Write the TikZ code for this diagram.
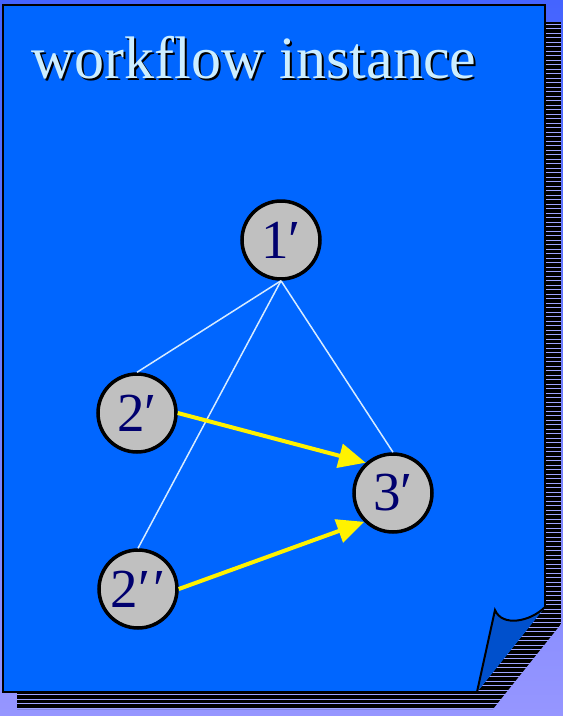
\documentclass[tikz,border=0pt]{standalone}
\usepackage{fontspec}
\setmainfont{Liberation Serif}
\usetikzlibrary{arrows.meta}

\definecolor{pageblue}{RGB}{0,102,255}
\definecolor{curlblue}{RGB}{0,80,204}
\definecolor{bgtop}{RGB}{68,100,255}
\definecolor{bgbottom}{RGB}{150,150,255}
\definecolor{stripe}{RGB}{160,165,255}
\definecolor{titlecyan}{RGB}{204,238,255}
\definecolor{labelnavy}{RGB}{0,0,110}
\definecolor{edgewhite}{RGB}{215,235,255}
\definecolor{nodegray}{RGB}{192,192,192}

\tikzset{
    state/.style={circle, draw=black, line width=3.5pt, fill=nodegray, minimum size=78pt,
            inner sep=0pt, text=labelnavy, font=\fontsize{55}{55}\selectfont},
    link/.style={edgewhite, line width=1.5pt},
    flow/.style={yellow, line width=4pt, -{Triangle[length=27pt,width=24pt]}},
    heading/.style={anchor=base, font=\fontsize{60}{60}\selectfont}
}

\begin{document}
\begin{tikzpicture}[x=1pt, y=-1pt]
    % Background
    \shade[top color=bgtop, bottom color=bgbottom] (0,0) rectangle (563,716);
    \useasboundingbox (0,0) rectangle (563,716);

    % Striped shadow of the page stack
    \fill[stripe] (17,22) -- (561,22) -- (561,624) -- (493,709) -- (17,709) -- cycle;
    \begin{scope}
        \clip (17,22) -- (561,22) -- (561,624) -- (493,709) -- (17,709) -- cycle;
        \foreach \y in {22,26.5,...,712}
            {
                \draw[line width=3.2pt] (17,\y) -- (561,\y);
            }
    \end{scope}

    % The page with its curled corner
    \fill[pageblue] (3,5) -- (545,5) -- (545,607) -- (477,692) -- (3,692) -- cycle;
    \draw[line width=2pt] (477,692) -- (3,692) -- (3,5) -- (545,5) -- (545,607);
    \fill[curlblue] (495,610) .. controls (502,627) and (530,622) .. (545,607) -- (477,692) -- cycle;
    \draw[line width=2pt] (477,692) -- (495,610) .. controls (502,627) and (530,622) .. (545,607);

    % Title
    \node[heading, text=black] (titleshadow) at (256,80) {workflow instance};
    \node[heading, text=titlecyan] (title) at (254,78) {workflow instance};

    % Activities
    \node[state] (n1) at (281,240) {1′};
    \node[state] (n2a) at (137,413) {2′};
    \node[state] (n2b) at (138,589) {2′\kern3pt′};
    \node[state] (n3) at (393,493) {3′};

    % Links from the first activity
    \foreach \t in {n2a, n3, n2b}
        {
            \draw[link] (n1.south) -- (\t.north);
        }

    % Flow into the last activity
    \draw[flow] (n2a.east) -- (n3.132);
    \draw[flow] (n2b.east) -- (n3.225);

\end{tikzpicture}
\end{document}
